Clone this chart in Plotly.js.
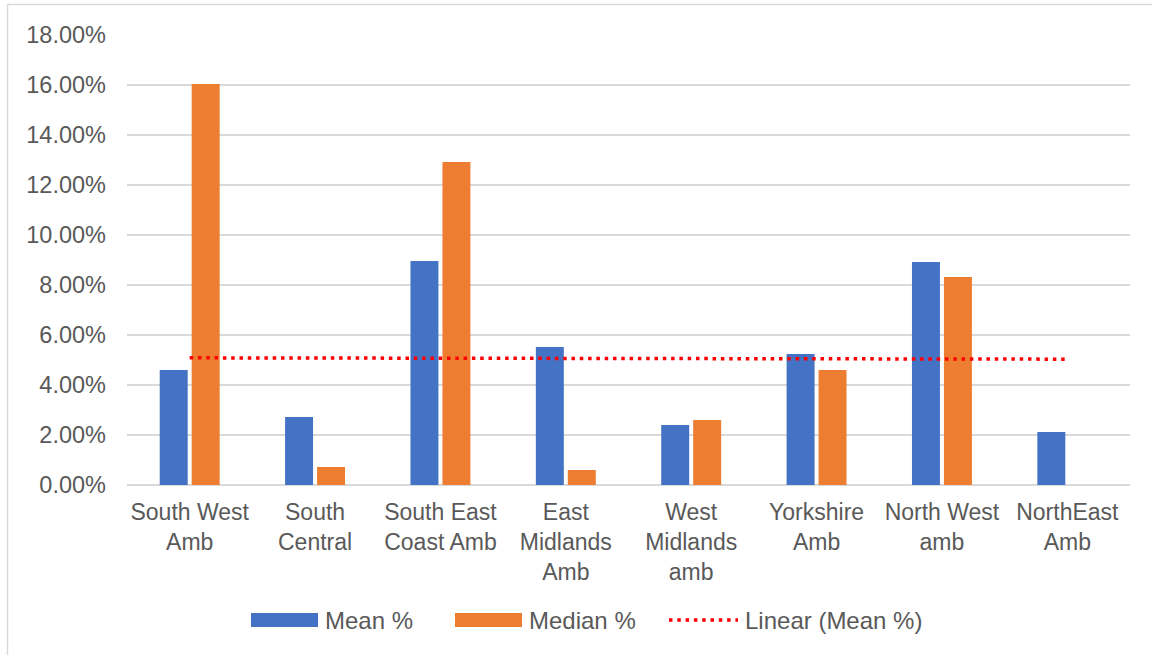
<!DOCTYPE html>
<html>
<head>
<meta charset="utf-8">
<script src="https://cdn.plot.ly/plotly-3.0.1.min.js"></script>
<style>html,body{margin:0;padding:0;background:#fff;}#chart{width:1152px;height:655px;}</style>
</head>
<body>
<div id="chart"></div>
<script>
// Data
var categories = ["South West<br>Amb", "South<br>Central", "South East<br>Coast Amb", "East<br>Midlands<br>Amb", "West<br>Midlands<br>amb", "Yorkshire<br>Amb", "North West<br>amb", "NorthEast<br>Amb"];
var meanPct = [0.0460, 0.0272, 0.0896, 0.0552, 0.0240, 0.0524, 0.0892, 0.0212];
var medianPct = [0.1604, 0.0072, 0.1292, 0.0060, 0.0260, 0.0460, 0.0832, 0];
var yTickVals = [0, 0.02, 0.04, 0.06, 0.08, 0.10, 0.12, 0.14, 0.16, 0.18];

var idx = categories.map(function(_, i){ return i; });

// Linear trendline (least squares) of the Mean % series
function linFit(xs, ys){
  var n = xs.length, sx=0, sy=0, sxx=0, sxy=0;
  for (var i=0;i<n;i++){ sx+=xs[i]; sy+=ys[i]; sxx+=xs[i]*xs[i]; sxy+=xs[i]*ys[i]; }
  var b = (n*sxy - sx*sy)/(n*sxx - sx*sx);
  var a = (sy - b*sx)/n;
  return function(x){ return a + b*x; };
}
var fit = linFit(idx, meanPct);
var trendX = [idx[0], idx[idx.length-1]];
var trendY = trendX.map(fit);

var blue = "#4472C4", orange = "#ED7D31", red = "#FF0000", txt = "#595959", grid = "#D9D9D9";
var dotDash = "3.5px,4.8px";

var traces = [
  {type:"bar", name:"Mean %", x: idx, y: meanPct, marker:{color: blue}, showlegend:false, hoverinfo:"y"},
  {type:"bar", name:"Median %", x: idx, y: medianPct, marker:{color: orange}, showlegend:false, hoverinfo:"y"},
  {type:"scatter", mode:"lines", name:"Linear (Mean %)", x: trendX, y: trendY,
   line:{color: red, dash:dotDash, width:3.5}, showlegend:false, hoverinfo:"skip"}
];

// plot area geometry (pixels)
var L = 127, R = 1130, T = 35, B = 485;
function px(x){ return (x - L)/(R - L); }
function py(y){ return (B - y)/(B - T); }

var legendY = 620;
var shapes = [
  // outer chart border (top and left edges visible)
  {type:"line", xref:"paper", yref:"paper", x0:px(7.5), x1:px(1160), y0:py(4.5), y1:py(4.5), line:{color:grid, width:1.5}},
  {type:"line", xref:"paper", yref:"paper", x0:px(7.5), x1:px(7.5), y0:py(4.5), y1:py(660), line:{color:grid, width:1.5}},
  // legend swatches
  {type:"rect", xref:"paper", yref:"paper", x0:px(251), x1:px(318), y0:py(legendY-7), y1:py(legendY+7), fillcolor:blue, line:{width:0}},
  {type:"rect", xref:"paper", yref:"paper", x0:px(455), x1:px(522), y0:py(legendY-7), y1:py(legendY+7), fillcolor:orange, line:{width:0}},
  {type:"line", xref:"paper", yref:"paper", x0:px(669), x1:px(738), y0:py(legendY), y1:py(legendY), line:{color:red, width:3.5, dash:dotDash}}
];
var fam = "Liberation Sans, Arial, sans-serif";
var legendFont = {family:fam, size:24, color:txt};
var annotations = [
  {xref:"paper", yref:"paper", x:px(323), y:py(legendY), text:"Mean %", showarrow:false, xanchor:"left", yanchor:"middle", font:legendFont},
  {xref:"paper", yref:"paper", x:px(527), y:py(legendY), text:"Median %", showarrow:false, xanchor:"left", yanchor:"middle", font:legendFont},
  {xref:"paper", yref:"paper", x:px(743), y:py(legendY), text:"Linear (Mean %)", showarrow:false, xanchor:"left", yanchor:"middle", font:legendFont}
];

var layout = {
  width:1152, height:655,
  margin:{l:L, r:1152-R, t:T, b:655-B, pad:0},
  paper_bgcolor:"#fff", plot_bgcolor:"#fff",
  font:{family:fam, size:24, color:txt},
  barmode:"group", bargap:0.49, bargroupgap:0.125,
  xaxis:{type:"linear", range:[-0.5, idx.length-0.5], tickvals: idx, ticktext: categories,
         showgrid:false, zeroline:false, showline:false, ticks:"", ticklabelstandoff:11,
         tickfont:{family:fam, size:23, color:txt}, fixedrange:true},
  yaxis:{range:[0, 0.18], tickvals: yTickVals, tickformat:".2%", showgrid:true, gridcolor:grid, gridwidth:1.3,
         zeroline:true, zerolinecolor:grid, zerolinewidth:1.5, showline:false, ticks:"", ticklabelstandoff:20,
         tickfont:{family:fam, size:23.5, color:txt}, fixedrange:true},
  shapes: shapes,
  annotations: annotations,
  showlegend:false
};

Plotly.newPlot("chart", traces, layout, {displayModeBar:false, staticPlot:true});
</script>
</body>
</html>
